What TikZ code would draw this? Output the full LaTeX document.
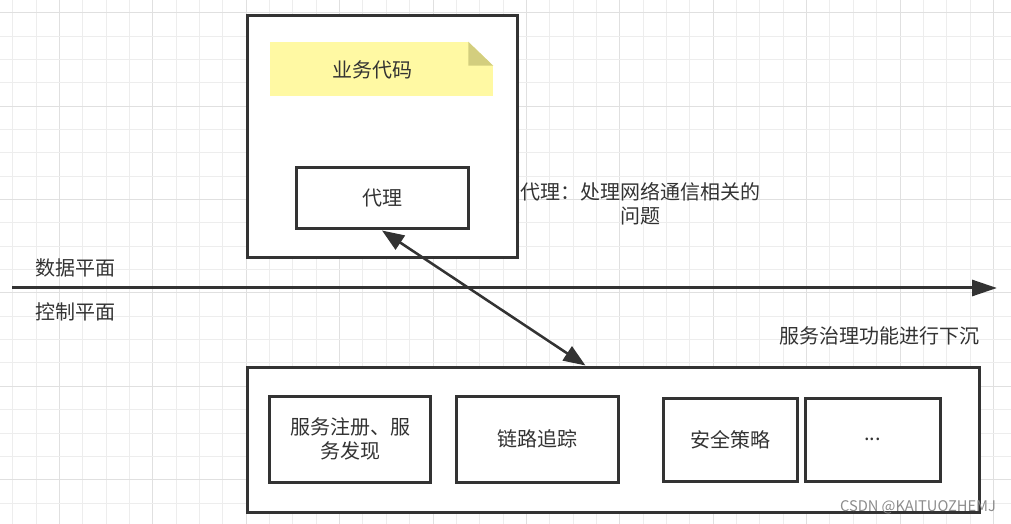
\documentclass[tikz,border=0pt]{standalone}
\usepackage{fontspec}
\setmainfont{Noto Sans CJK SC}
\usepackage{xcolor}
\usetikzlibrary{arrows.meta}
\definecolor{edge}{HTML}{333333}
\definecolor{notefill}{HTML}{FFF9A3}
\definecolor{notefold}{HTML}{D3CE7E}

\begin{document}
\begin{tikzpicture}[
  x=0.75pt, y=-0.75pt,
  font=\fontsize{15}{18}\selectfont, text=edge,
  gridminor/.style={line width=0.75pt, black!7},
  gridmajor/.style={line width=0.75pt, black!12},
  frame/.style={rectangle, draw=edge, line width=2.25pt, fill=white,
                inner sep=0pt, align=center},
  note/.style={rectangle, fill=notefill, inner sep=0pt,
               minimum width=167.25pt, minimum height=40.5pt},
  lbl/.style={align=center, inner sep=0pt},
  axis/.style={-{Triangle[length=18.75pt, width=12pt]}, line width=2.25pt, edge},
  link/.style={{Triangle[length=16.5pt, width=12.5pt]}-{Triangle[length=16.5pt, width=12.5pt]},
               line width=1.9pt, edge}
]
\useasboundingbox (0,0) rectangle (1011,524);
% background grid
\foreach \i in {0,...,42} {
  \pgfmathsetmacro\gx{12.7+23.35*\i}
  \pgfmathtruncatemacro\gm{mod(\i,4)}
  \ifnum\gm=2 \draw[gridmajor] (\gx,0) -- (\gx,524);
  \else \draw[gridminor] (\gx,0) -- (\gx,524); \fi
}
\foreach \i in {0,...,21} {
  \pgfmathsetmacro\gy{12.7+23.35*\i}
  \pgfmathtruncatemacro\gm{mod(\i,4)}
  \ifnum\gm=0 \draw[gridmajor] (0,\gy) -- (1011,\gy);
  \else \draw[gridminor] (0,\gy) -- (1011,\gy); \fi
}

% data plane: service with proxy
\node[frame, minimum width=202.5pt, minimum height=181.5pt] (svc) at (382,137) {};
\node[note] (code) at (381.5,69) {};
\fill[white] ([xshift=-18.75pt]code.north east) -- (code.north east)
  -- ([yshift=-18pt]code.north east) -- cycle;
\fill[notefold] ([xshift=-18.75pt]code.north east) -- ([yshift=-18pt]code.north east)
  -- ([xshift=-18.75pt, yshift=-18pt]code.north east) -- cycle;
\node[lbl] (codetext) at (372,70) {业务代码};
\node[frame, minimum width=129pt, minimum height=45.75pt] (proxy) at (382,198.5) {代理};
\node[lbl] (proxynote) at (640,204) {代理：处理网络通信相关的\\问题};

% plane separator
\coordinate (axs) at (12,288);
\coordinate (axe) at (997,288);
\draw[axis] (axs) -- (axe);
\node[lbl] (dataplane) at (76,268) {数据平面};
\node[lbl] (ctrlplane) at (76,312) {控制平面};

% control plane
\node[lbl] (sink) at (879,336) {服务治理功能进行下沉};
\node[frame, minimum width=549pt, minimum height=108.75pt] (dock) at (613,439.5) {};
\node[frame, minimum width=121.1pt, minimum height=64.5pt] (reg) at (350.25,439) {服务注册、服\\务发现};
\node[frame, minimum width=121.5pt, minimum height=64.5pt] (trace) at (537,439) {链路追踪};
\node[frame, minimum width=100.5pt, minimum height=62.25pt] (sec) at (730,439.5) {安全策略};
\node[frame, minimum width=101.25pt, minimum height=62.25pt] (more) at (872.5,439.5) {...};

\draw[link] (proxy.south) -- ([xshift=255pt]dock.north west);

\node[lbl, text=black!45, font=\fontsize{11}{13}\selectfont] (mark) at (918,507) {CSDN @KAITUOZHEMJ};
\end{tikzpicture}
\end{document}
